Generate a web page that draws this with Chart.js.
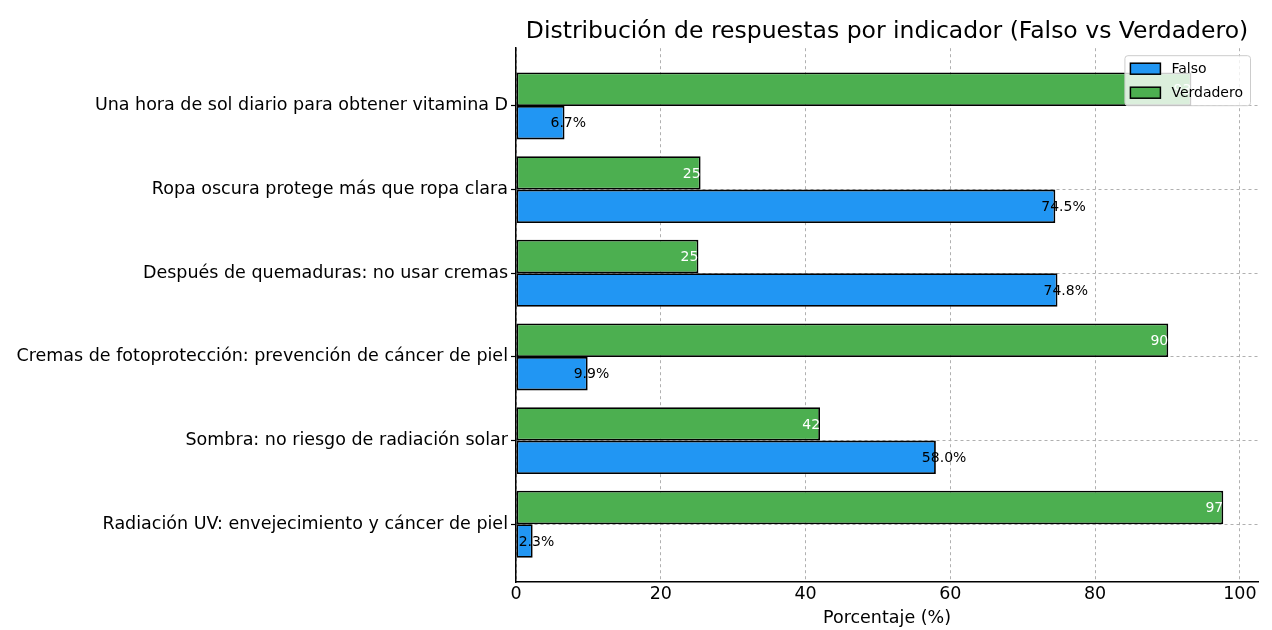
<!DOCTYPE html>
<html>
<head>
<meta charset="utf-8">
<script src="https://cdn.jsdelivr.net/npm/chart.js@4/dist/chart.umd.min.js"></script>
<style>
  body { margin: 0; background: #fff; }
  canvas { display: block; }
</style>
</head>
<body>
<canvas id="chart" width="1272" height="630"></canvas>
<script>
// indicadores, de arriba hacia abajo
const categories = [
    'Una hora de sol diario para obtener vitamina D',
    'Ropa oscura protege más que ropa clara',
    'Después de quemaduras: no usar cremas',
    'Cremas de fotoprotección: prevención de cáncer de piel',
    'Sombra: no riesgo de radiación solar',
    'Radiación UV: envejecimiento y cáncer de piel'
];
const falso = [6.7, 74.5, 74.8, 9.9, 58.0, 2.3];
const verdadero = [93.3, 25.5, 25.2, 90.1, 42.0, 97.7];
const xTicks = [0, 20, 40, 60, 80, 100];

const FONT = 'DejaVu Sans';
const BLUE = '#2196F3';
const GREEN = '#4CAF50';

Chart.defaults.font.family = FONT;
Chart.defaults.color = '#000';

const toPoints = arr => arr.map((v, i) => ({ x: v, y: i }));

// etiquetas de valor sobre las barras
const valueLabels = {
    id: 'valueLabels',
    afterDatasetsDraw(chart) {
        const ctx = chart.ctx;
        ctx.save();
        ctx.font = '14px "' + FONT + '"';
        ctx.textBaseline = 'middle';

        ctx.fillStyle = '#fff';
        ctx.textAlign = 'right';
        chart.getDatasetMeta(0).data.forEach((bar, i) => {
            ctx.fillText(String(Math.trunc(verdadero[i])), bar.x, bar.y + 1);
        });

        ctx.fillStyle = '#000';
        ctx.textAlign = 'left';
        chart.getDatasetMeta(1).data.forEach((bar, i) => {
            ctx.fillText(falso[i].toFixed(1) + '%', bar.x - 14, bar.y + 1);
        });
        ctx.restore();
    }
};

// leyenda dentro del area, arriba a la derecha
const boxLegend = {
    id: 'boxLegend',
    afterDraw(chart) {
        const ctx = chart.ctx;
        const area = chart.chartArea;
        const items = [
            { text: 'Falso', color: BLUE },
            { text: 'Verdadero', color: GREEN }
        ];
        ctx.save();
        ctx.font = '14px "' + FONT + '"';
        const textW = Math.max(...items.map(it => ctx.measureText(it.text).width));
        const w = 6 + 30 + 11 + textW + 7;
        const h = 50;
        const x0 = area.right - 8 - w;
        const y0 = area.top + 7;

        ctx.beginPath();
        ctx.roundRect(x0 + 0.5, y0 + 0.5, w, h, 3);
        ctx.fillStyle = 'rgba(255,255,255,0.8)';
        ctx.fill();
        ctx.strokeStyle = '#cccccc';
        ctx.lineWidth = 1;
        ctx.stroke();

        items.forEach((it, k) => {
            const cy = y0 + 13.5 + k * 24;
            ctx.fillStyle = it.color;
            ctx.fillRect(x0 + 6, cy - 5.5, 30, 11);
            ctx.strokeStyle = '#000';
            ctx.lineWidth = 1.5;
            ctx.strokeRect(x0 + 6, cy - 5.5, 30, 11);
            ctx.fillStyle = '#000';
            ctx.textAlign = 'left';
            ctx.textBaseline = 'middle';
            ctx.fillText(it.text, x0 + 6 + 30 + 11, cy + 1);
        });
        ctx.restore();
    }
};

new Chart(document.getElementById('chart'), {
    type: 'bar',
    data: {
        datasets: [
            {
                label: 'Verdadero',
                data: toPoints(verdadero),
                backgroundColor: GREEN,
                borderColor: '#000',
                borderWidth: 1.8,
                borderSkipped: false
            },
            {
                label: 'Falso',
                data: toPoints(falso),
                backgroundColor: BLUE,
                borderColor: '#000',
                borderWidth: 1.8,
                borderSkipped: false
            }
        ]
    },
    options: {
        indexAxis: 'y',
        responsive: false,
        animation: false,
        categoryPercentage: 0.8,
        barPercentage: 1.0,
        layout: { padding: { left: 0, right: 14, top: 0, bottom: 0 } },
        scales: {
            x: {
                type: 'linear',
                min: 0,
                max: 102.5,
                afterBuildTicks: scale => { scale.ticks = xTicks.map(v => ({ value: v })); },
                ticks: { font: { size: 17.5 }, padding: 2, color: '#000' },
                grid: { color: '#b0b0b0', lineWidth: 1, drawTicks: false },
                border: { color: '#000', width: 1.5, dash: [3, 3] },
                title: {
                    display: true,
                    text: 'Porcentaje (%)',
                    font: { size: 17.5 },
                    color: '#000',
                    padding: { top: 0, bottom: 1 }
                },
                afterFit: scale => { scale.height = 48; }
            },
            y: {
                type: 'linear',
                min: -0.69,
                max: 5.69,
                reverse: true,
                offset: false,
                ticks: {
                    stepSize: 1,
                    includeBounds: false,
                    font: { size: 17.5 },
                    color: '#000',
                    padding: 3,
                    callback: v => Number.isInteger(v) ? categories[v] : ''
                },
                grid: { offset: false, color: '#b0b0b0', lineWidth: 1, tickLength: 5, tickColor: '#000', tickWidth: 1.2, tickBorderDash: [] },
                border: { color: '#000', width: 1.5, dash: [3, 3] },
                afterFit: scale => { scale.width = 516; }
            }
        },
        plugins: {
            legend: { display: false },
            tooltip: { enabled: false },
            title: {
                display: true,
                fullSize: false,
                text: 'Distribución de respuestas por indicador (Falso vs Verdadero)',
                font: { size: 23.5, weight: 'normal' },
                color: '#000',
                padding: { top: 18, bottom: 2 }
            }
        }
    },
    plugins: [valueLabels, boxLegend]
});
</script>
</body>
</html>
